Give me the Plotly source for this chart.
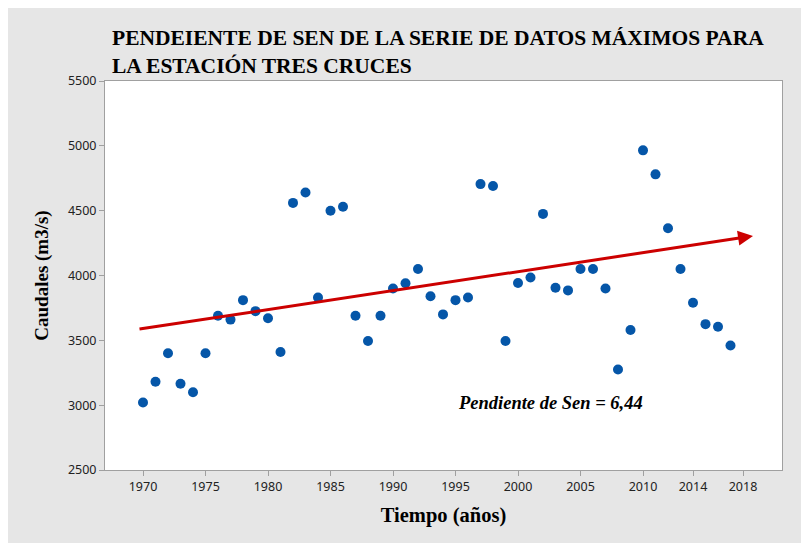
import plotly.graph_objects as go

# datos
anios = list(range(1970, 2018))
caudales = [3020, 3180, 3400, 3165, 3100, 3400, 3690, 3660, 3810, 3725,
            3670, 3410, 4560, 4640, 3830, 4500, 4530, 3690, 3495, 3690,
            3900, 3940, 4050, 3840, 3700, 3810, 3830, 4705, 4690, 3495,
            3942, 3985, 4475, 3905, 3885, 4050, 4050, 3900, 3275, 3580,
            4965, 4780, 4365, 4050, 3790, 3625, 3605, 3460]

# recta de tendencia (pendiente de Sen) tal como aparece dibujada
tend_x = [1969.6, 2018.8]
tend_y = [3585, 4305]

xticks = [1970, 1975, 1980, 1985, 1990, 1995, 2000, 2005, 2010, 2014, 2018]
yticks = [2500, 3000, 3500, 4000, 4500, 5000, 5500]

# la página deja 8 px de margen blanco arriba y a la izquierda
W, H = 801, 535
L, R, T, B = 97, 27, 73, 73

fig = go.Figure()

fig.add_trace(go.Scatter(
    x=anios, y=caudales, mode='markers',
    marker=dict(color='#0556a8', size=10),
    showlegend=False, hoverinfo='x+y'
))

# flecha de tendencia
fig.add_annotation(
    x=tend_x[1], y=tend_y[1], ax=tend_x[0], ay=tend_y[0],
    xref='x', yref='y', axref='x', ayref='y',
    showarrow=True, arrowhead=2, arrowsize=1, arrowwidth=3,
    arrowcolor='#cc0000', text=''
)

fig.add_annotation(
    x=2002.6, y=3020, xref='x', yref='y', showarrow=False,
    text='<b><i>Pendiente de Sen = 6,44</i></b>',
    font=dict(family='Liberation Serif', size=18.5, color='black')
)

fig.update_layout(
    width=W, height=H,
    margin=dict(l=L, r=R, t=T, b=B),
    paper_bgcolor='#e6e6e6', plot_bgcolor='white',
    title=dict(
        text='<b>PENDEIENTE DE SEN DE LA SERIE DE DATOS MÁXIMOS PARA<br>LA ESTACIÓN TRES CRUCES</b>',
        x=(112 - 8 - L) / (W - L - R), xref='paper', xanchor='left',
        y=1 - 37 / H, yanchor='top',
        font=dict(family='Liberation Serif', size=21.5, color='black')
    ),
    font=dict(family='Noto Sans', size=12, color='#222222'),
)

fig.update_xaxes(
    range=[1966.96, 2021.12], tickvals=xticks, ticktext=[str(t) for t in xticks],
    showgrid=False, zeroline=False, showline=True, mirror=True,
    linecolor='#a0a0a0', linewidth=1, ticks='outside', ticklen=5,
    tickcolor='#a0a0a0', tickfont=dict(size=12.5, color='#222222'),
    title=dict(text='<b>Tiempo (años)</b>', standoff=13,
               font=dict(family='Liberation Serif', size=20.5, color='black'))
)
fig.update_yaxes(
    range=[2500, 5500], tickvals=yticks,
    showgrid=False, zeroline=False, showline=True, mirror=True,
    linecolor='#a0a0a0', linewidth=1, ticks='outside', ticklen=5,
    tickcolor='#a0a0a0', tickfont=dict(size=12.5, color='#222222'),
    title=dict(text='<b>Caudales (m3/s)</b>', standoff=14,
               font=dict(family='Liberation Serif', size=19, color='black'))
)

fig.write_html('out.html')
